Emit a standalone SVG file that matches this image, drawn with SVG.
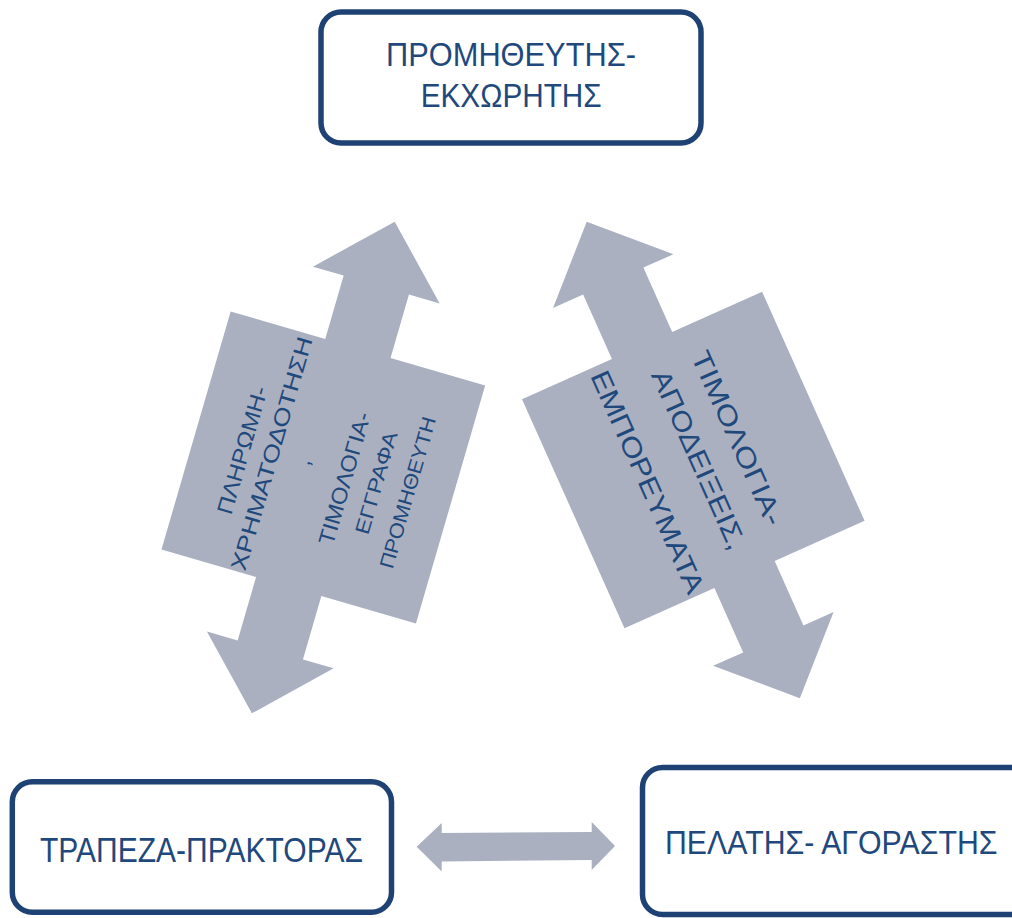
<svg xmlns="http://www.w3.org/2000/svg" width="1012" height="918" viewBox="0 0 1012 918">
<style>
.box{fill:#ffffff;stroke:#1F4274;stroke-width:5.5}
.arr{fill:#AAB0C0}
.t{font-family:"Liberation Sans","Open Sans","DejaVu Sans",sans-serif;fill:#1F497D}
</style>
<rect width="1012" height="918" fill="#ffffff"/>
<g id="connectors">
<g id="arrow-left" transform="translate(323.3,467.5) rotate(16.2)">
<polygon class="arr" points="0,-256 66,-190 34,-190 34,-124 132.5,-124 132.5,124 34,124 34,190 66,190 0,256 -66,190 -34,190 -34,124 -132.5,124 -132.5,-124 -34,-124 -34,-190 -66,-190"/>
</g>
<g id="arrow-left-label" class="t" transform="translate(323.3,467.5) rotate(-73.8)">
<text x="-72" y="-75" font-size="22" textLength="132" lengthAdjust="spacingAndGlyphs">ΠΛΗΡΩΜΗ-</text>
<text x="-122" y="-46" font-size="22" textLength="242" lengthAdjust="spacingAndGlyphs">ΧΡΗΜΑΤΟΔΟΤΗΣΗ</text>
<text x="-3" y="-14" font-size="22">,</text>
<text x="-73" y="31" font-size="22" textLength="137" lengthAdjust="spacingAndGlyphs">ΤΙΜΟΛΟΓΙΑ-</text>
<text x="-53" y="62" font-size="20" textLength="106" lengthAdjust="spacingAndGlyphs">ΕΓΓΡΑΦΑ</text>
<text x="-79" y="95" font-size="20" textLength="157" lengthAdjust="spacingAndGlyphs">ΠΡΟΜΗΘΕΥΤΗ</text>
</g>
<g id="arrow-right" transform="translate(693.3,460) rotate(-24.1)">
<polygon class="arr" points="0,-261 66,-196 33,-196 33,-125.5 131.5,-125.5 131.5,125.5 33,125.5 33,196 66,196 0,261 -66,196 -33,196 -33,125.5 -131.5,125.5 -131.5,-125.5 -33,-125.5 -33,-196 -66,-196"/>
</g>
<g id="arrow-right-label" class="t" transform="translate(693.3,460) rotate(65.9)">
<text x="-96" y="-40" font-size="27" textLength="188" lengthAdjust="spacingAndGlyphs">ΤΙΜΟΛΟΓΙΑ-</text>
<text x="-95" y="4" font-size="27" textLength="194" lengthAdjust="spacingAndGlyphs">ΑΠΟΔΕΙΞΕΙΣ,</text>
<text x="-119" y="60" font-size="27" textLength="241" lengthAdjust="spacingAndGlyphs">ΕΜΠΟΡΕΥΜΑΤΑ</text>
</g>
<polygon id="arrow-bottom" class="arr" points="416.7,846.7 441.7,823 441.7,833 591.7,832 591.7,822 615,846 591.7,870 591.7,860 441.7,861.5 441.7,871.5"/>
</g>
<g id="node-supplier">
<rect class="box" x="321" y="12" width="380" height="131" rx="20" ry="20"/>
<text class="t" x="386" y="66" font-size="34" textLength="250" lengthAdjust="spacingAndGlyphs">ΠΡΟΜΗΘΕΥΤΗΣ-</text>
<text class="t" x="420.7" y="107.3" font-size="34" textLength="181" lengthAdjust="spacingAndGlyphs">ΕΚΧΩΡΗΤΗΣ</text>
</g>
<g id="node-bank">
<rect class="box" x="12.3" y="781.8" width="379.2" height="130.4" rx="20" ry="20"/>
<text class="t" x="40" y="861.7" font-size="35" textLength="323" lengthAdjust="spacingAndGlyphs">ΤΡΑΠΕΖΑ-ΠΡΑΚΤΟΡΑΣ</text>
</g>
<g id="node-customer">
<path class="box" d="M1012,767.5 H662.5 A20,20 0 0 0 642.5,787.5 V894.5 A20,20 0 0 0 662.5,914.5 H1012"/>
<text class="t" transform="translate(665,854) scale(0.891,1)" font-size="34">ΠΕΛΑΤΗΣ- ΑΓΟΡΑΣΤΗΣ</text>
</g>
</svg>
